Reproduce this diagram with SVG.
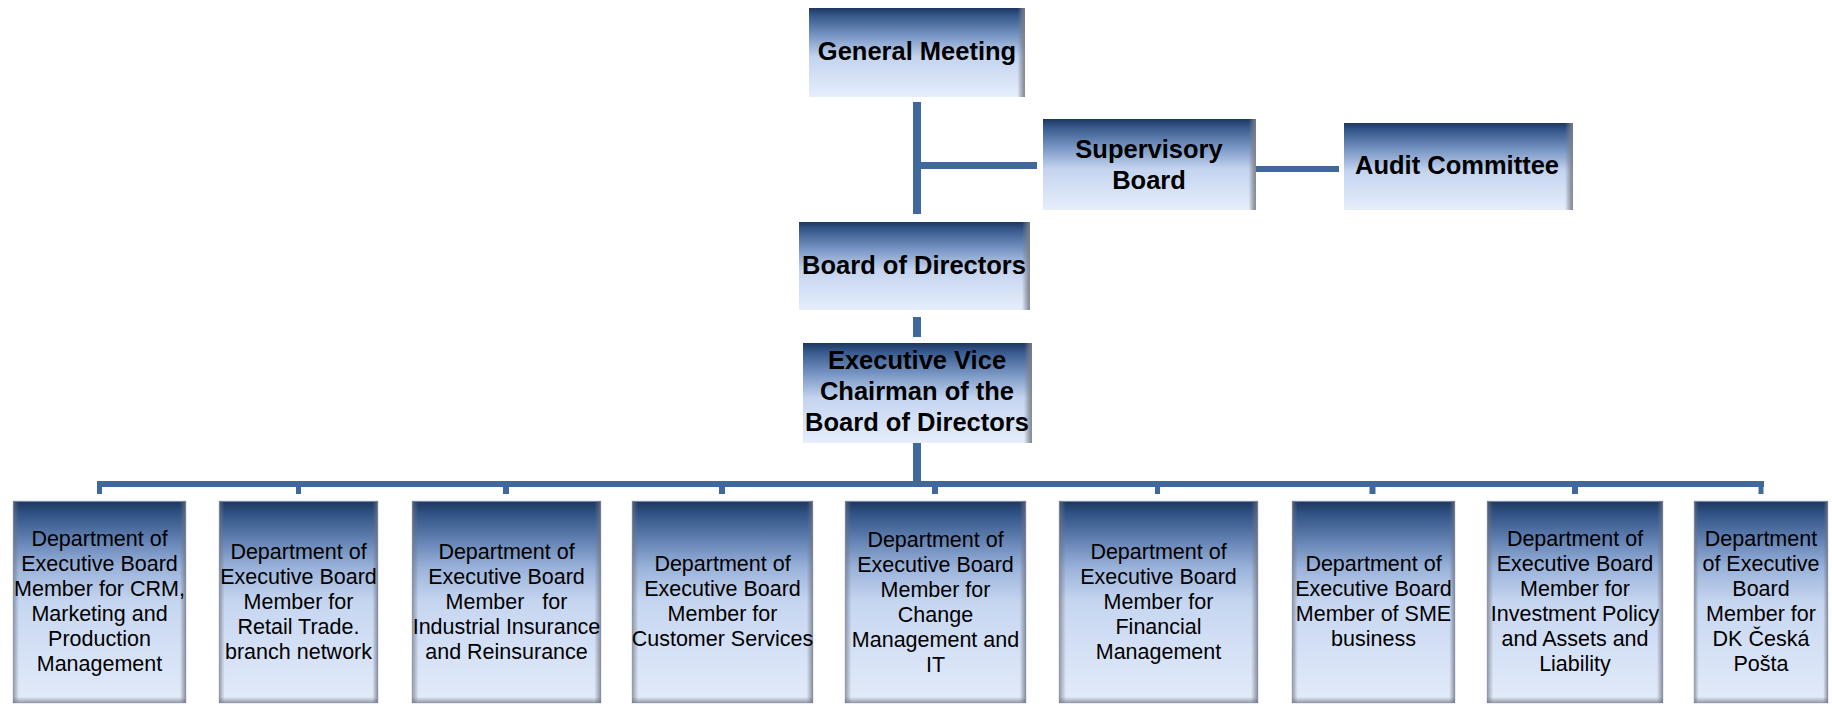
<svg xmlns="http://www.w3.org/2000/svg" width="1832" height="705" viewBox="0 0 1832 705">
  <defs>
    <linearGradient id="gTop" x1="0" y1="0" x2="0" y2="1">
      <stop offset="0" stop-color="#1d375e"/>
      <stop offset="0.08" stop-color="#34568a"/>
      <stop offset="0.3" stop-color="#7593c2"/>
      <stop offset="0.55" stop-color="#c4d4ef"/>
      <stop offset="0.8" stop-color="#d7e2f6"/>
      <stop offset="1" stop-color="#e6eefb"/>
    </linearGradient>
    <linearGradient id="gDept" x1="0" y1="0" x2="0" y2="1">
      <stop offset="0" stop-color="#1d375e"/>
      <stop offset="0.06" stop-color="#2f5184"/>
      <stop offset="0.2" stop-color="#6584b5"/>
      <stop offset="0.33" stop-color="#9ab2da"/>
      <stop offset="0.5" stop-color="#c6d6f0"/>
      <stop offset="0.8" stop-color="#d8e3f7"/>
      <stop offset="1" stop-color="#e3ebfa"/>
    </linearGradient>
    <linearGradient id="gRightEdge" x1="0" y1="0" x2="1" y2="0">
      <stop offset="0" stop-color="#7b808a" stop-opacity="0"/>
      <stop offset="0.965" stop-color="#7b808a" stop-opacity="0"/>
      <stop offset="0.99" stop-color="#7b808a" stop-opacity="0.75"/>
      <stop offset="1" stop-color="#7b808a" stop-opacity="0.9"/>
    </linearGradient>
    <linearGradient id="gSideEdges" x1="0" y1="0" x2="1" y2="0">
      <stop offset="0" stop-color="#6f7480" stop-opacity="0.7"/>
      <stop offset="0.035" stop-color="#6f7480" stop-opacity="0"/>
      <stop offset="0.965" stop-color="#6f7480" stop-opacity="0"/>
      <stop offset="1" stop-color="#6f7480" stop-opacity="0.8"/>
    </linearGradient>
    <linearGradient id="gBottomEdge" x1="0" y1="0" x2="0" y2="1">
      <stop offset="0" stop-color="#6f7480" stop-opacity="0"/>
      <stop offset="0.97" stop-color="#6f7480" stop-opacity="0"/>
      <stop offset="1" stop-color="#6f7480" stop-opacity="0.7"/>
    </linearGradient>
  </defs>
  <style>
    .top { fill: url(#gTop); }
    .redge { fill: url(#gRightEdge); }
    .dept { fill: url(#gDept); stroke: #d5dceb; stroke-width: 1; }
    .sedge { fill: url(#gSideEdges); }
    .bedge { fill: url(#gBottomEdge); }
    .tb { font-family: "Liberation Sans", Arial, sans-serif; font-weight: bold; font-size: 25.5px; fill: #000; text-anchor: middle; }
    .td { font-family: "Liberation Sans", Arial, sans-serif; font-size: 21.5px; fill: #000; text-anchor: middle; white-space: pre; }
    .ln { stroke: #41689c; fill: none; stroke-linecap: butt; }
  </style>

  <g id="connectors">
    <line class="ln" x1="917" y1="102" x2="917" y2="214" stroke-width="8"/>
    <line class="ln" x1="917" y1="165.5" x2="1037" y2="165.5" stroke-width="7"/>
    <line class="ln" x1="1255" y1="169" x2="1339" y2="169" stroke-width="6"/>
    <line class="ln" x1="917" y1="317" x2="917" y2="337" stroke-width="8"/>
    <line class="ln" x1="917" y1="443" x2="917" y2="484" stroke-width="8"/>
    <line class="ln" x1="97" y1="484" x2="1764" y2="484" stroke-width="6"/>
    <line class="ln" x1="99.5" y1="484" x2="99.5" y2="494" stroke-width="5"/>
    <line class="ln" x1="298.5" y1="484" x2="298.5" y2="494" stroke-width="5"/>
    <line class="ln" x1="506" y1="484" x2="506" y2="494" stroke-width="6"/>
    <line class="ln" x1="722" y1="484" x2="722" y2="494" stroke-width="6"/>
    <line class="ln" x1="935" y1="484" x2="935" y2="494" stroke-width="6"/>
    <line class="ln" x1="1157.5" y1="484" x2="1157.5" y2="494" stroke-width="5"/>
    <line class="ln" x1="1372.5" y1="484" x2="1372.5" y2="494" stroke-width="6"/>
    <line class="ln" x1="1575" y1="484" x2="1575" y2="494" stroke-width="6"/>
    <line class="ln" x1="1761" y1="484" x2="1761" y2="494" stroke-width="5"/>
  </g>

  <g id="general-meeting">
    <rect class="top" x="809" y="8" width="216" height="89"/>
    <rect class="redge" x="809" y="8" width="216" height="89"/>
    <text class="tb" x="917" y="60">General Meeting</text>
  </g>

  <g id="supervisory-board">
    <rect class="top" x="1043" y="119" width="213" height="91"/>
    <rect class="redge" x="1043" y="119" width="213" height="91"/>
    <text class="tb" x="1149" y="158">Supervisory</text>
    <text class="tb" x="1149" y="189">Board</text>
  </g>

  <g id="audit-committee">
    <rect class="top" x="1344" y="123" width="229" height="87"/>
    <rect class="redge" x="1344" y="123" width="229" height="87"/>
    <text class="tb" x="1457" y="174">Audit Committee</text>
  </g>

  <g id="board-of-directors">
    <rect class="top" x="799" y="222" width="231" height="88"/>
    <rect class="redge" x="799" y="222" width="231" height="88"/>
    <text class="tb" x="914" y="274">Board of Directors</text>
  </g>

  <g id="executive-vice-chairman">
    <rect class="top" x="803" y="343" width="229" height="100"/>
    <rect class="redge" x="803" y="343" width="229" height="100"/>
    <text class="tb" x="917" y="369">Executive Vice</text>
    <text class="tb" x="917" y="400">Chairman of the</text>
    <text class="tb" x="917" y="431">Board of Directors</text>
  </g>

  <g id="dept-crm">
    <rect class="dept" x="13" y="501" width="173" height="202"/>
    <rect class="sedge" x="13" y="501" width="173" height="202"/>
    <rect class="bedge" x="13" y="501" width="173" height="202"/>
    <text class="td" x="99.5" y="546">Department of<tspan x="99.5" dy="25">Executive Board</tspan><tspan x="99.5" dy="25">Member for CRM,</tspan><tspan x="99.5" dy="25">Marketing and</tspan><tspan x="99.5" dy="25">Production</tspan><tspan x="99.5" dy="25">Management</tspan></text>
  </g>

  <g id="dept-retail">
    <rect class="dept" x="219" y="501" width="159" height="202"/>
    <rect class="sedge" x="219" y="501" width="159" height="202"/>
    <rect class="bedge" x="219" y="501" width="159" height="202"/>
    <text class="td" x="298.5" y="558.5">Department of<tspan x="298.5" dy="25">Executive Board</tspan><tspan x="298.5" dy="25">Member for</tspan><tspan x="298.5" dy="25">Retail Trade.</tspan><tspan x="298.5" dy="25">branch network</tspan></text>
  </g>

  <g id="dept-industrial">
    <rect class="dept" x="412" y="501" width="189" height="202"/>
    <rect class="sedge" x="412" y="501" width="189" height="202"/>
    <rect class="bedge" x="412" y="501" width="189" height="202"/>
    <text class="td" x="506.5" y="558.5">Department of<tspan x="506.5" dy="25">Executive Board</tspan><tspan x="506.5" dy="25">Member   for</tspan><tspan x="506.5" dy="25">Industrial Insurance</tspan><tspan x="506.5" dy="25">and Reinsurance</tspan></text>
  </g>

  <g id="dept-customer">
    <rect class="dept" x="632" y="501" width="181" height="202"/>
    <rect class="sedge" x="632" y="501" width="181" height="202"/>
    <rect class="bedge" x="632" y="501" width="181" height="202"/>
    <text class="td" x="722.5" y="571">Department of<tspan x="722.5" dy="25">Executive Board</tspan><tspan x="722.5" dy="25">Member for</tspan><tspan x="722.5" dy="25">Customer Services</tspan></text>
  </g>

  <g id="dept-change">
    <rect class="dept" x="845" y="501" width="181" height="202"/>
    <rect class="sedge" x="845" y="501" width="181" height="202"/>
    <rect class="bedge" x="845" y="501" width="181" height="202"/>
    <text class="td" x="935.5" y="547">Department of<tspan x="935.5" dy="25">Executive Board</tspan><tspan x="935.5" dy="25">Member for</tspan><tspan x="935.5" dy="25">Change</tspan><tspan x="935.5" dy="25">Management and</tspan><tspan x="935.5" dy="25">IT</tspan></text>
  </g>

  <g id="dept-financial">
    <rect class="dept" x="1059" y="501" width="199" height="202"/>
    <rect class="sedge" x="1059" y="501" width="199" height="202"/>
    <rect class="bedge" x="1059" y="501" width="199" height="202"/>
    <text class="td" x="1158.5" y="558.5">Department of<tspan x="1158.5" dy="25">Executive Board</tspan><tspan x="1158.5" dy="25">Member for</tspan><tspan x="1158.5" dy="25">Financial</tspan><tspan x="1158.5" dy="25">Management</tspan></text>
  </g>

  <g id="dept-sme">
    <rect class="dept" x="1292" y="501" width="163" height="202"/>
    <rect class="sedge" x="1292" y="501" width="163" height="202"/>
    <rect class="bedge" x="1292" y="501" width="163" height="202"/>
    <text class="td" x="1373.5" y="571">Department of<tspan x="1373.5" dy="25">Executive Board</tspan><tspan x="1373.5" dy="25">Member of SME</tspan><tspan x="1373.5" dy="25">business</tspan></text>
  </g>

  <g id="dept-investment">
    <rect class="dept" x="1487" y="501" width="176" height="202"/>
    <rect class="sedge" x="1487" y="501" width="176" height="202"/>
    <rect class="bedge" x="1487" y="501" width="176" height="202"/>
    <text class="td" x="1575" y="546">Department of<tspan x="1575" dy="25">Executive Board</tspan><tspan x="1575" dy="25">Member for</tspan><tspan x="1575" dy="25">Investment Policy</tspan><tspan x="1575" dy="25">and Assets and</tspan><tspan x="1575" dy="25">Liability</tspan></text>
  </g>

  <g id="dept-ceska-posta">
    <rect class="dept" x="1694" y="501" width="134" height="202"/>
    <rect class="sedge" x="1694" y="501" width="134" height="202"/>
    <rect class="bedge" x="1694" y="501" width="134" height="202"/>
    <text class="td" x="1761" y="546">Department<tspan x="1761" dy="25">of Executive</tspan><tspan x="1761" dy="25">Board</tspan><tspan x="1761" dy="25">Member for</tspan><tspan x="1761" dy="25">DK Česká</tspan><tspan x="1761" dy="25">Pošta</tspan></text>
  </g>
</svg>
